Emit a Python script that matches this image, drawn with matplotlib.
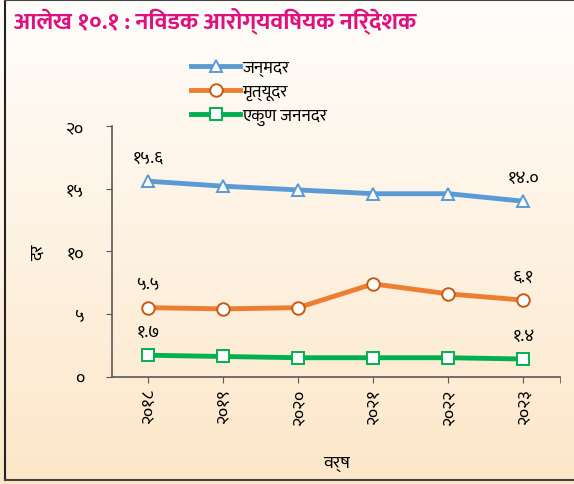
import numpy as np
import matplotlib
matplotlib.use('Agg')
import matplotlib.pyplot as plt
from matplotlib import font_manager
from matplotlib.lines import Line2D

# data
years = ['२०१८', '२०१९', '२०२०', '२०२१', '२०२२', '२०२३']
birth_rate = [15.6, 15.2, 14.9, 14.6, 14.6, 14.0]
death_rate = [5.5, 5.4, 5.5, 7.4, 6.6, 6.1]
fertility = [1.7, 1.6, 1.5, 1.5, 1.5, 1.4]
series_names = ['जन्मदर', 'मृत्यूदर', 'एकुण जननदर']
y_ticks = [0, 5, 10, 15, 20]
y_tick_labels = ['०', '५', '१०', '१५', '२०']
first_labels = ['१५.६', '५.५', '१.७']
last_labels = ['१४.०', '६.१', '१.४']

installed = {f.name for f in font_manager.fontManager.ttflist}


def pick(names):
    for n in names:
        if n in installed:
            return n
    return 'FreeSans'


main_font = pick(['Mukta', 'Hind', 'Noto Sans Devanagari', 'Poppins', 'Anek Devanagari', 'FreeSans'])
plt.rcParams['font.family'] = [main_font, 'DejaVu Sans']

fig = plt.figure(figsize=(5.74, 4.85), dpi=100)

# background gradient
bg = fig.add_axes([0, 0, 1, 1], zorder=-10)
grad = np.linspace(0, 1, 256).reshape(-1, 1)
top = np.array([1.0, 0.995, 0.985])
bot = np.array([0.992, 0.905, 0.79])
img = top + (bot - top) * grad[..., None]
bg.imshow(img, aspect='auto', extent=[0, 1, 0, 1])
bg.set_xlim(0, 1)
bg.set_ylim(0, 1)
bg.axis('off')

# border (top, left, bottom)
fig.add_artist(Line2D([0.008, 0.008], [0.008, 0.998], transform=fig.transFigure, color='#222222', lw=1.5))
fig.add_artist(Line2D([0.008, 1.0], [0.997, 0.997], transform=fig.transFigure, color='#444444', lw=1.5))
fig.add_artist(Line2D([0.008, 1.0], [0.008, 0.008], transform=fig.transFigure, color='#444444', lw=1.5))

fig.text(0.025, 0.957, 'आलेख १०.१ : निवडक आरोग्यविषयक निर्देशक', color='#e0107f',
         fontsize=17, fontweight='bold', va='center', ha='left')

ax = fig.add_axes([0.195, 0.2216, 0.781, 0.5164])
ax.patch.set_alpha(0)

x = np.arange(len(years))
ax.plot(x, birth_rate, color='#5b9bd5', lw=3.5, marker='^', ms=9,
        mfc='white', mec='#5b9bd5', mew=1.4, label=series_names[0])
ax.plot(x, death_rate, color='#ed7d31', lw=3.5, marker='o', ms=9,
        mfc='white', mec='#c55a11', mew=1.4, label=series_names[1])
ax.plot(x, fertility, color='#00b050', lw=3.5, marker='s', ms=8.5,
        mfc='white', mec='#00b050', mew=1.4, label=series_names[2])

for vals, a, b in zip([birth_rate, death_rate, fertility], first_labels, last_labels):
    ax.annotate(a, (x[0], vals[0]), xytext=(0, 11), textcoords='offset points',
                ha='center', va='bottom', fontsize=13)
    ax.annotate(b, (x[-1], vals[-1]), xytext=(0, 11), textcoords='offset points',
                ha='center', va='bottom', fontsize=13)

ax.set_xlim(-0.48, 5.49)
ax.set_ylim(0, 20)
ax.set_yticks(y_ticks)
ax.set_yticklabels(y_tick_labels, fontsize=13)
ax.set_xticks(x)
ax.set_xticklabels(years, rotation=90, fontsize=13)
ax.set_xticks([5.49], minor=True)
ax.tick_params(axis='both', which='both', colors='#595959', length=4, labelcolor='black')
ax.tick_params(axis='y', pad=16)
ax.tick_params(axis='x', pad=4)
for s in ['top', 'right']:
    ax.spines[s].set_visible(False)
for s in ['left', 'bottom']:
    ax.spines[s].set_color('#595959')
    ax.spines[s].set_linewidth(1.2)

ax.set_xlabel('वर्ष', fontsize=13, labelpad=22)
ax.set_ylabel('दर', fontsize=13, labelpad=14)

leg = fig.legend(loc='upper left', bbox_to_anchor=(0.318, 0.893), frameon=False,
                 fontsize=12.5, handlelength=2.8, handletextpad=0.15, labelspacing=0.45,
                 borderpad=0)

fig.savefig('out.png', dpi=100)
